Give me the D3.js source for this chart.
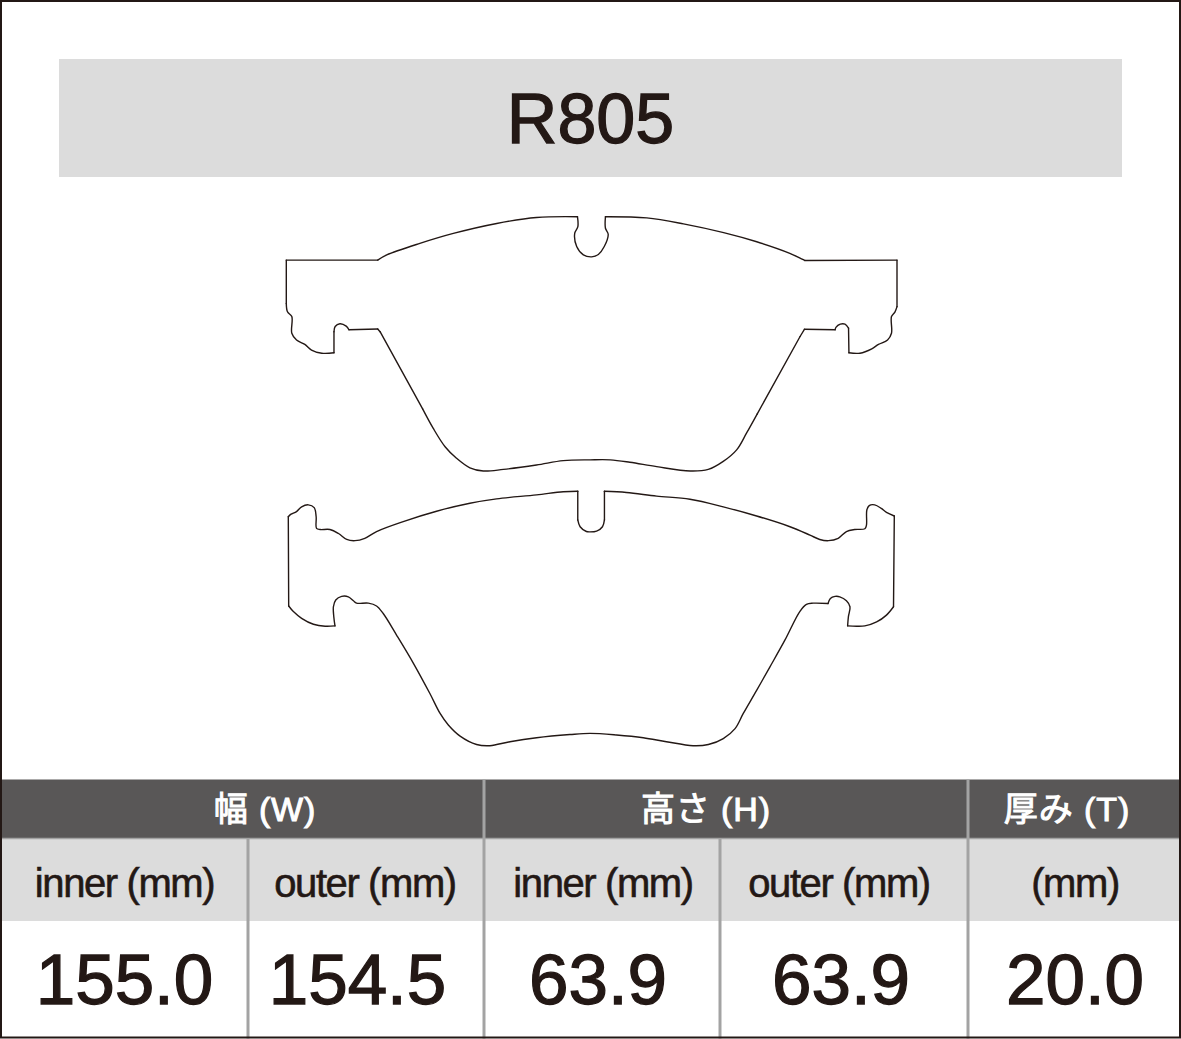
<!DOCTYPE html>
<html>
<head>
<meta charset="utf-8">
<title>R805</title>
<script src="https://cdnjs.cloudflare.com/ajax/libs/d3/7.8.5/d3.min.js"></script>
<style>
  html, body { margin: 0; padding: 0; background: #fff; }
  svg { display: block; }
  text { font-family: "Liberation Sans", Arial, sans-serif; }
</style>
</head>
<body>
<svg id="chart" width="1181" height="1039"></svg>
<script>
// Pad code and dimension table
const padCode = "R805";
const groupLabels = ["幅 (W)", "高さ (H)", "厚み (T)"];
const columnLabels = ["inner (mm)", "outer (mm)", "inner (mm)", "outer (mm)", "(mm)"];
const columnValues = ["155.0", "154.5", "63.9", "63.9", "20.0"];
const innerSize = [155.0, 63.9];
const outerSize = [154.5, 63.9];

// Outlines in mm from the pad's top left corner.
// Each run is drawn smooth, so the corners stay sharp where two runs meet.
const innerOutline = [
  [[23.2,10.9],[25.5,9.6],[33.9,6.7],[42.4,4.2],[53.4,1.7],[63.5,0.2],[73.9,0]],
  [[73.9,0],[74.0,2.5],[73.2,4.2],[73.7,7.5],[75.4,9.6],[77.5,10.1],[79.2,9.5],[80.7,7.5],[81.7,4.4],[81.0,2.9],[81.0,0]],
  [[81.0,0],[91.5,0.3],[100.8,1.8],[111.0,4.0],[119.4,6.3],[127.8,9.2],[131.6,11.0]],
  [[131.6,11.0],[155,10.9]],
  [[155,10.9],[155,22.6]],
  [[155,22.6],[154.5,23.9],[153.6,25.1],[153.6,29.3],[152.6,31.0],[150.3,32.1],[148.6,33.2],[145.6,34.3],[142.8,34.2]],
  [[142.8,34.2],[142.7,28.0]],
  [[142.7,28.0],[141.8,27.0],[140.6,27.0],[139.5,27.8],[139.3,28.4]],
  [[139.3,28.4],[131.5,28.3]],
  [[131.5,28.3],[130.4,30.1]],
  [[130.4,30.1],[119.5,49.6]],
  [[119.5,49.6],[116.8,54.4],[114.3,58.6],[110.9,61.5],[107.1,63.5],[102.5,63.9],[94.0,62.8],[87.2,61.7],[82.2,61.1],[77.1,61.1],[70.3,61.3],[63.5,62.4],[55.1,63.5],[50.0,63.9],[46.6,63.1],[43.2,60.7],[40.3,57.8],[37.3,53.2],[34.6,48.3]],
  [[34.6,48.3],[23.8,28.9]],
  [[23.8,28.9],[23.2,28.2]],
  [[23.2,28.2],[15.9,28.4]],
  [[15.9,28.4],[15.2,27.5],[13.6,26.9],[12.4,27.6],[12.1,28.9]],
  [[12.1,28.9],[12.1,34.2]],
  [[12.1,34.2],[9.0,34.3],[6.4,33.5],[4.7,32.1],[2.6,31.0],[1.4,29.3],[1.4,25.1],[0.3,23.9],[0,21.8]],
  [[0,21.8],[0,10.9]],
  [[0,10.9],[23.2,10.9]]
];

const outerOutline = [
  [[0,6.4],[0.6,5.8],[2.1,5.1],[3.4,3.9],[5.1,3.4],[6.6,4.1],[7.1,6.4],[7.2,9.3],[8.1,9.6],[10.6,9.6],[12.8,10.6],[14.9,12.1],[17.0,12.4],[19.5,11.8],[22.5,10.1],[29.3,7.6],[37.8,5.0],[46.3,3.0],[53.1,1.9],[63.3,0.9],[70.1,0.1],[73.8,0]],
  [[73.8,0],[73.8,7.2]],
  [[73.8,7.2],[74.4,8.9],[76.0,10.1],[76.9,10.2],[78.6,10.0],[80.1,8.9],[80.6,7.2]],
  [[80.6,7.2],[80.6,0]],
  [[80.6,0],[86.2,0.3],[93.9,1.2],[102.4,2.0],[110.9,3.9],[119.4,6.2],[127.9,8.9],[133.0,11.0],[135.5,12.1],[137.7,12.4],[140.2,11.8],[142.3,10.1],[144.4,9.6],[147.0,9.4],[147.4,8.5],[147.5,4.7],[148.1,3.6],[149.5,3.4],[151.2,4.3],[152.5,5.3],[154.5,6.2]],
  [[154.5,6.2],[154.3,29.0]],
  [[154.3,29.0],[152.5,31.1],[150.0,32.8],[147.0,33.8],[144.9,33.9],[142.6,33.8]],
  [[142.6,33.8],[142.8,31.5],[143.2,29.0],[142.3,27.5],[140.6,26.5],[139.4,26.4],[138.2,26.9],[137.6,28.2]],
  [[137.6,28.2],[133.8,28.1],[132.1,28.4],[130.4,30.2],[126.6,37.4],[122.8,44.1],[119.4,50.0],[116.0,55.8],[113.9,59.6],[110.9,62.1],[107.1,63.6],[103.2,63.9],[96.4,62.9],[90.5,61.9],[83.7,61.2],[76.9,60.8],[71.8,61.1],[63.3,61.9],[56.5,62.9],[51.4,63.9],[48.0,63.6],[43.8,61.5],[40.8,58.7],[38.7,55.8],[36.1,50.8],[31.9,43.2],[27.6,36.1],[24.2,30.7],[22.5,28.8],[20.4,28.1],[17.4,28.1],[16.6,27.5],[15.3,26.5],[13.6,26.4],[12.1,27.3],[11.5,29.0],[11.6,31.5],[11.9,33.8]],
  [[11.9,33.8],[9.4,33.9],[6.4,33.4],[3.4,31.9],[1.3,30.2],[0.1,28.8]],
  [[0.1,28.8],[0,6.4]]
];

const W = 1181, H = 1039;
const INK = "#231815", DARK = "#595757", LIGHT = "#dcdcdc", RULE = "#a3a3a3";

const svg = d3.select("#chart");

// ── title band ───────────────────────────────────────────────────────────

svg.append("rect").attr("x", 59).attr("y", 59).attr("width", 1063).attr("height", 118).attr("fill", LIGHT);
svg.append("text").attr("x", 590.5).attr("y", 143).attr("text-anchor", "middle")
  .attr("font-size", 70).attr("fill", INK).attr("stroke", INK).attr("stroke-width", 1.3).text(padCode);

// ── pad outlines ─────────────────────────────────────────────────────────

function drawPad(runs, size, xRange, yRange) {
  const x = d3.scaleLinear().domain([0, size[0]]).range(xRange);
  const y = d3.scaleLinear().domain([0, size[1]]).range(yRange);
  const line = d3.line().x(d => x(d[0])).y(d => y(d[1])).curve(d3.curveCatmullRom.alpha(0.5));
  svg.append("g").selectAll("path").data(runs).join("path")
    .attr("d", line)
    .attr("fill", "none")
    .attr("stroke", INK)
    .attr("stroke-width", 1.4)
    .attr("stroke-linecap", "round");
}

drawPad(innerOutline, innerSize, [286.3, 897], [216.7, 471]);
drawPad(outerOutline, outerSize, [288.3, 894.3], [491.3, 745.7]);

// ── dimension table ──────────────────────────────────────────────────────

const columnEdges = [2, 248, 484, 720, 968, 1179];
const columnText = [124.5, 365, 603, 839, 1075];
const valueText = [124.5, 357.5, 598, 841, 1075];
const groupText = [265, 706, 1067];
const rowTop = 779.5, rowMid = 838.5, rowLow = 921, rowEnd = 1036.5;

const xEdge = i => columnEdges[i];

svg.append("rect").attr("x", 0).attr("y", rowTop).attr("width", W).attr("height", rowMid - rowTop).attr("fill", DARK);
svg.append("rect").attr("x", 0).attr("y", rowMid).attr("width", W).attr("height", rowLow - rowMid).attr("fill", LIGHT);

// group dividers run the full height, column dividers start below the header
svg.append("g").selectAll("line").data([2, 4]).join("line")
  .attr("x1", xEdge).attr("x2", xEdge).attr("y1", rowTop).attr("y2", rowEnd + 2)
  .attr("stroke", RULE).attr("stroke-width", 3);
svg.append("g").selectAll("line").data([1, 3]).join("line")
  .attr("x1", xEdge).attr("x2", xEdge).attr("y1", rowMid).attr("y2", rowEnd + 2)
  .attr("stroke", RULE).attr("stroke-width", 3);
svg.append("line").attr("x1", 0).attr("x2", W).attr("y1", rowMid).attr("y2", rowMid)
  .attr("stroke", RULE).attr("stroke-width", 1.5);

svg.append("g").selectAll("text").data(groupLabels).join("text")
  .attr("x", (d, i) => groupText[i]).attr("y", 820.5).attr("text-anchor", "middle")
  .attr("font-size", 34).attr("letter-spacing", 0.9).attr("fill", "#fff")
  .attr("stroke", "#fff").attr("stroke-width", 1)
  .style("font-family", '"Liberation Sans", "Noto Sans CJK JP", sans-serif')
  .text(d => d);

svg.append("g").selectAll("text").data(columnLabels).join("text")
  .attr("x", (d, i) => columnText[i]).attr("y", 896.5).attr("text-anchor", "middle")
  .attr("font-size", 40).attr("letter-spacing", -1.4).attr("fill", INK)
  .attr("stroke", INK).attr("stroke-width", 0.6)
  .text(d => d);

svg.append("g").selectAll("text").data(columnValues).join("text")
  .attr("x", (d, i) => valueText[i]).attr("y", 1004).attr("text-anchor", "middle")
  .attr("font-size", 71).attr("fill", INK).attr("stroke", INK).attr("stroke-width", 1.3)
  .text(d => d);

// ── outer frame ──────────────────────────────────────────────────────────

svg.append("rect").attr("x", 1).attr("y", 1).attr("width", W - 2).attr("height", H - 2.5)
  .attr("fill", "none").attr("stroke", INK).attr("stroke-width", 2);
</script>
</body>
</html>
